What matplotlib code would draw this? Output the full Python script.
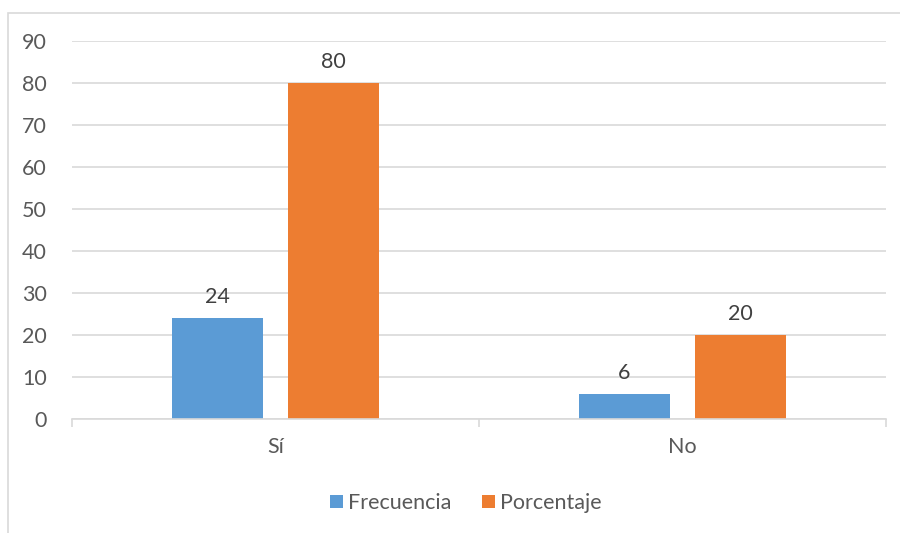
import matplotlib
matplotlib.use("Agg")
from matplotlib import pyplot as plt
from matplotlib.patches import Rectangle
import numpy as np

# data
categories = ['Sí', 'No']
frecuencia = [24, 6]
porcentaje = [80, 20]
yticks = [0, 10, 20, 30, 40, 50, 60, 70, 80, 90]

plt.rcParams['font.family'] = ['Lato', 'DejaVu Sans']
grey = '#595959'
blue = '#5B9BD5'
orange = '#ED7D31'
fs = 15.5

W, H = 900, 533
fig = plt.figure(figsize=(9, 5.33), dpi=100)

# outer chart frame (runs off the right and bottom edges)
fig.patches.append(Rectangle((8 / W, -0.05), 1.0, 1 - 13 / H + 0.05,
                             transform=fig.transFigure, fill=False,
                             edgecolor='#D9D9D9', linewidth=1.2))

ax = fig.add_axes([72 / W, 1 - 419 / H, (886 - 72) / W, (419 - 41) / H])

x = np.arange(len(categories))
w = 0.224
off = 0.1425
b1 = ax.bar(x - off, frecuencia, w, color=blue, label='Frecuencia')
b2 = ax.bar(x + off, porcentaje, w, color=orange, label='Porcentaje')

for bars in (b1, b2):
    for r in bars:
        ax.annotate(str(int(r.get_height())),
                    (r.get_x() + r.get_width() / 2, r.get_height()),
                    xytext=(0, 8), textcoords='offset points',
                    ha='center', va='bottom', fontsize=fs, color='#404040')

ax.set_xlim(-0.5, 1.5)
ax.set_ylim(0, 90)
ax.set_yticks(yticks)
ax.yaxis.grid(True, color='#D9D9D9', linewidth=1.2)
ax.set_axisbelow(True)
ax.tick_params(axis='y', length=0, labelsize=fs, labelcolor=grey, pad=18)

ax.set_xticks([-0.5, 0.5, 1.5])
ax.set_xticklabels([])
ax.set_xticks(x, minor=True)
ax.set_xticklabels(categories, minor=True)
ax.tick_params(axis='x', which='major', length=6, color='#D9D9D9', width=1.2)
ax.tick_params(axis='x', which='minor', length=0, labelsize=fs,
               labelcolor=grey, pad=13)

for s in ['top', 'right', 'left']:
    ax.spines[s].set_visible(False)
ax.spines['bottom'].set_color('#D9D9D9')
ax.spines['bottom'].set_linewidth(1.2)

fig.legend(handles=[b1, b2], loc='center', bbox_to_anchor=(466 / W, 1 - 503 / H),
           ncol=2, frameon=False, fontsize=fs, labelcolor=grey,
           handlelength=0.6, handleheight=0.6, handletextpad=0.25,
           columnspacing=1.4)

plt.savefig('out.png', dpi=100)
